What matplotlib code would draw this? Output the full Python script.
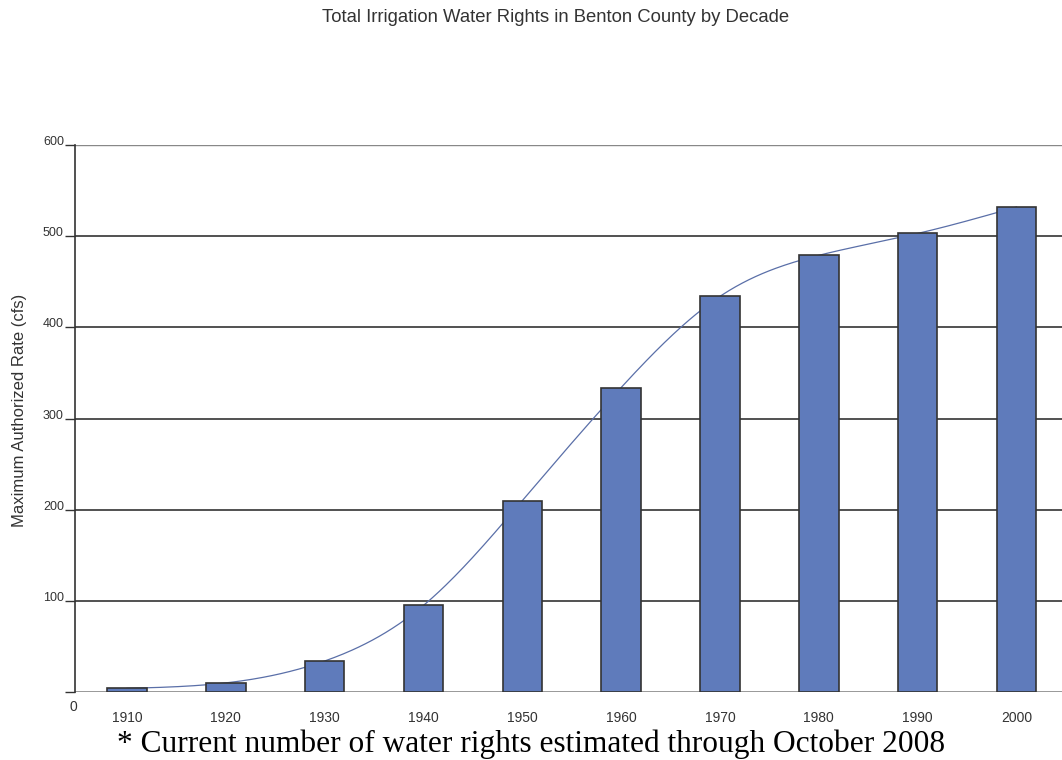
import matplotlib.pyplot as plt
import numpy as np

decades = ['1910', '1920', '1930', '1940', '1950', '1960', '1970', '1980', '1990', '2000']
rates = [4, 10, 34, 95, 210, 334, 434, 479, 503, 532]
yticks = [100, 200, 300, 400, 500, 600]


def natural_spline(x, y, n=400):
    # natural cubic spline, done by hand (no scipy here)
    x = np.asarray(x, float)
    y = np.asarray(y, float)
    k = len(x)
    h = np.diff(x)
    A = np.zeros((k, k))
    b = np.zeros(k)
    A[0, 0] = A[-1, -1] = 1
    for i in range(1, k - 1):
        A[i, i - 1] = h[i - 1]
        A[i, i] = 2 * (h[i - 1] + h[i])
        A[i, i + 1] = h[i]
        b[i] = 6 * ((y[i + 1] - y[i]) / h[i] - (y[i] - y[i - 1]) / h[i - 1])
    M = np.linalg.solve(A, b)
    xs = np.linspace(x[0], x[-1], n)
    idx = np.clip(np.searchsorted(x, xs) - 1, 0, k - 2)
    x0, x1 = x[idx], x[idx + 1]
    hh = x1 - x0
    t0, t1 = x1 - xs, xs - x0
    ys = (M[idx] * t0**3 + M[idx + 1] * t1**3) / (6 * hh) \
        + (y[idx] / hh - M[idx] * hh / 6) * t0 \
        + (y[idx + 1] / hh - M[idx + 1] * hh / 6) * t1
    return xs, ys


fig = plt.figure(figsize=(10.62, 7.6), dpi=100)
ax = fig.add_axes([75 / 1062, 68 / 760, 987 / 1062, 547 / 760])

x = np.arange(len(decades))
ax.bar(x, rates, width=0.4, color='#5f7bbb', edgecolor='#333333', linewidth=1.2, zorder=3)
xs, ys = natural_spline(x, rates)
ax.plot(xs, ys, color='#5a6fa8', linewidth=0.9, zorder=2)

for v in yticks[:-1]:
    ax.axhline(v, color='#333333', linewidth=1.2, zorder=1)
ax.axhline(600, color='#888888', linewidth=1.0, zorder=1)
ax.axhline(0, color='#888888', linewidth=1.2, zorder=1)

ax.set_xlim(-0.526, 9.46)
ax.set_ylim(0, 600)
ax.set_yticks([0] + yticks)
ax.set_yticklabels([''] + [str(v) for v in yticks], fontsize=9, color='#333333',
                   family='Liberation Sans', va='baseline')
ax.tick_params(axis='y', length=7, width=1, color='#333333', pad=1)
ax.set_xticks(x)
ax.set_xticklabels(decades, fontsize=10, color='#333333', family='Liberation Sans')
ax.tick_params(axis='x', length=0, pad=14)

for s in ['top', 'right', 'bottom']:
    ax.spines[s].set_visible(False)
ax.spines['left'].set_color('#333333')
ax.spines['left'].set_linewidth(1.2)

fig.text(73 / 1062, 1 - 707 / 760, '0', fontsize=10, color='#333333',
         family='Liberation Sans', ha='center', va='center')
fig.text(20 / 1062, 1 - 410 / 760, 'Maximum Authorized Rate (cfs)', rotation=90,
         fontsize=12, color='#333333', family='Liberation Sans', ha='center', va='center')
fig.text(556 / 1062, 1 - 17 / 760, 'Total Irrigation Water Rights in Benton County by Decade',
         fontsize=13.3, color='#333333', family='Liberation Sans', ha='center', va='center')
fig.text(531 / 1062, 1 - 744 / 760, '* Current number of water rights estimated through October 2008',
         fontsize=22.6, color='black', family='Liberation Serif', ha='center', va='center')

fig.savefig('out.png', dpi=100)
